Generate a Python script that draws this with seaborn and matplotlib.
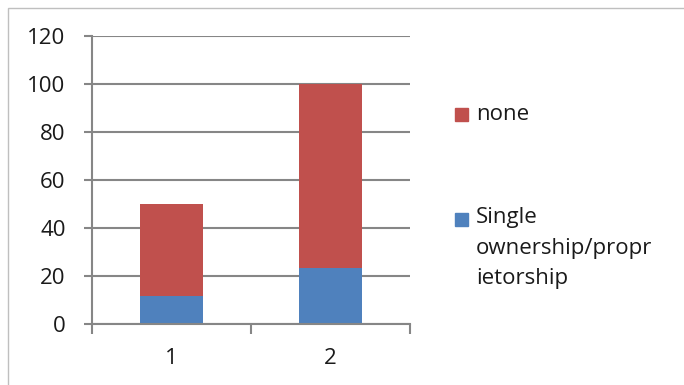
import matplotlib
matplotlib.use("Agg")
import matplotlib.pyplot as plt
from matplotlib.patches import Rectangle
import numpy as np
import pandas as pd
import seaborn as sns

# datos
categorias = ["1", "2"]
single = [11.5, 23.5]
none = [38.5, 76.5]
etiquetas = ["none", "Single\nownership/propr\nietorship"]

rojo = "#C0504D"
azul = "#4F81BD"
gris = "#868686"

sns.set_style("white")
plt.rcParams['font.family'] = ['Open Sans', 'DejaVu Sans']
fs = 16

df = pd.DataFrame({"cat": categorias, "single": single, "none": none})
df["total"] = df["single"] + df["none"]

fig = plt.figure(figsize=(6.84, 3.85), dpi=100)
ax = fig.add_axes([92 / 684, 1 - 324 / 385, (410 - 92) / 684, (324 - 36) / 385])

# barras apiladas: total (rojo) y encima la parte azul
sns.barplot(data=df, x="cat", y="total", color=rojo, width=0.4, saturation=1, ax=ax)
sns.barplot(data=df, x="cat", y="single", color=azul, width=0.4, saturation=1, ax=ax)
for p in ax.patches:
    p.set_edgecolor("none")

ax.set_ylim(0, 120)
ax.set_xlim(-0.5, 1.5)
ax.set_yticks(np.arange(0, 121, 20))
ax.set_xlabel("")
ax.set_ylabel("")
ax.yaxis.grid(True, color=gris, linewidth=1.5)
ax.set_axisbelow(True)

for s in ["top", "right"]:
    ax.spines[s].set_visible(False)
ax.spines["left"].set_color(gris)
ax.spines["left"].set_linewidth(1.5)
ax.spines["bottom"].set_color(gris)
ax.spines["bottom"].set_linewidth(1.5)
ax.spines["left"].set_bounds(0, 120)

ax.tick_params(axis="y", length=6, width=1.5, color=gris, direction="out",
               labelsize=fs, labelcolor="#1a1a1a", pad=13, left=True)
ax.tick_params(axis="x", length=0, labelsize=fs, labelcolor="#1a1a1a", pad=17)
ax.set_xticks([-0.5, 0.5, 1.5], minor=True)
ax.tick_params(axis="x", which="minor", length=7, width=1.5, color=gris, bottom=True)

# leyenda manual a la derecha
fig.patches.append(Rectangle((455 / 684, 1 - 121 / 385), 13 / 684, 13 / 385,
                             transform=fig.transFigure, color=rojo))
fig.text(476 / 684, 1 - 114 / 385, etiquetas[0], fontsize=fs, va="center", color="#1a1a1a")
fig.patches.append(Rectangle((455 / 684, 1 - 226 / 385), 13 / 684, 13 / 385,
                             transform=fig.transFigure, color=azul))
fig.text(476 / 684, 1 - 207 / 385, etiquetas[1], fontsize=fs, va="top",
         linespacing=1.6, color="#1a1a1a")

# marco exterior
fig.patches.append(Rectangle((8 / 684, -0.05), 1.1, 1 - 8 / 385 + 0.05,
                             transform=fig.transFigure, fill=False,
                             edgecolor="#BFBFBF", linewidth=1))

fig.savefig("out.png", dpi=100)
